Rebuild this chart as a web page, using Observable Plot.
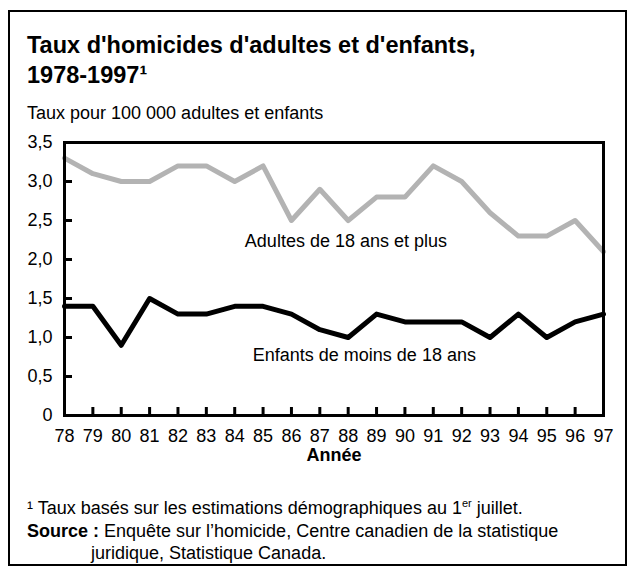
<!DOCTYPE html>
<html><head><meta charset="utf-8">
<script src="https://cdn.jsdelivr.net/npm/d3@7"></script>
<script src="https://cdn.jsdelivr.net/npm/@observablehq/plot@0.6"></script>
<style>
body{margin:0;background:#fff;font-family:"Liberation Sans",Arial,sans-serif;color:#000;}
#box{position:absolute;left:8px;top:10px;width:615px;height:552px;border:2px solid #000;}
#title{position:absolute;left:27px;top:30px;font-weight:bold;font-size:23.5px;line-height:30px;white-space:nowrap;}
#subtitle{position:absolute;left:27px;top:102px;font-size:18px;line-height:22px;white-space:nowrap;}
#chart{position:absolute;left:0;top:125px;}
#notes{position:absolute;left:27px;top:497px;font-size:18px;line-height:22.5px;white-space:nowrap;}
#notes sup{font-size:11px;vertical-align:7px;line-height:0;}
.indent{padding-left:64px;}
</style>
</head><body>
<div id="box"></div>
<div id="title">Taux d'homicides d'adultes et d'enfants,<br>1978-1997¹</div>
<div id="subtitle">Taux pour 100 000 adultes et enfants</div>
<div id="chart"></div>
<div id="notes">
<div>¹ Taux basés sur les estimations démographiques au 1<sup>er</sup> juillet.</div>
<div><b>Source :</b> Enquête sur l’homicide, Centre canadien de la statistique</div>
<div class="indent">juridique, Statistique Canada.</div>
</div>
<script>
const years = [78,79,80,81,82,83,84,85,86,87,88,89,90,91,92,93,94,95,96,97];
const xTickLabels = ["78","79","80","81","82","83","84","85","86","87","88","89","90","91","92","93","94","95","96","97"];
const adults = [3.3,3.1,3.0,3.0,3.2,3.2,3.0,3.2,2.5,2.9,2.5,2.8,2.8,3.2,3.0,2.6,2.3,2.3,2.5,2.1];
const children = [1.4,1.4,0.9,1.5,1.3,1.3,1.4,1.4,1.3,1.1,1.0,1.3,1.2,1.2,1.2,1.0,1.3,1.0,1.2,1.3];
const yTicks = [0,0.5,1.0,1.5,2.0,2.5,3.0,3.5];
const yTickLabels = ["0","0,5","1,0","1,5","2,0","2,5","3,0","3,5"];
const seriesLabels = ["Adultes de 18 ans et plus","Enfants de moins de 18 ans"];
const labelX = [87.92, 88.57];
const labelY = [2.24, 0.77];

const rowsA = years.map((y,i)=>({year:y, v:adults[i]}));
const rowsC = years.map((y,i)=>({year:y, v:children[i]}));
const labelRows = seriesLabels.map((t,i)=>({text:t, x:labelX[i], y:labelY[i]}));

const chart = Plot.plot({
  width: 636, height: 345,
  marginLeft: 64, marginRight: 33, marginTop: 17, marginBottom: 55,
  style: {fontFamily: "'Liberation Sans', Arial, sans-serif", fontSize: "18px", color: "#000", background: "transparent", overflow: "visible"},
  x: {domain: [78, 97]},
  y: {domain: [0, 3.5]},
  marks: [
    Plot.line(rowsA, {x: "year", y: "v", stroke: "#b3b3b3", strokeWidth: 5}),
    Plot.line(rowsC, {x: "year", y: "v", stroke: "#000", strokeWidth: 5}),
    Plot.frame({stroke: "#000", strokeWidth: 3}),
    Plot.axisX(years, {tickSize: 8, dy: -8, strokeWidth: 3, fill: "none", label: null}),
    Plot.axisX(years, {tickSize: 0, tickPadding: 14, tickFormat: d => xTickLabels[years.indexOf(d)], label: null}),
    Plot.axisY(yTicks, {tickSize: 8, dx: 8, strokeWidth: 3, fill: "none", label: null}),
    Plot.axisY(yTicks, {tickSize: 0, tickPadding: 12, tickFormat: d => yTickLabels[yTicks.indexOf(d)], label: null}),
    Plot.text(labelRows, {x: "x", y: "y", text: "text", fontSize: 18}),
    Plot.text(["Année"], {frameAnchor: "bottom", dy: 45, fontWeight: "bold", fontSize: 18})
  ]
});
document.getElementById("chart").appendChild(chart);
</script>
</body></html>
